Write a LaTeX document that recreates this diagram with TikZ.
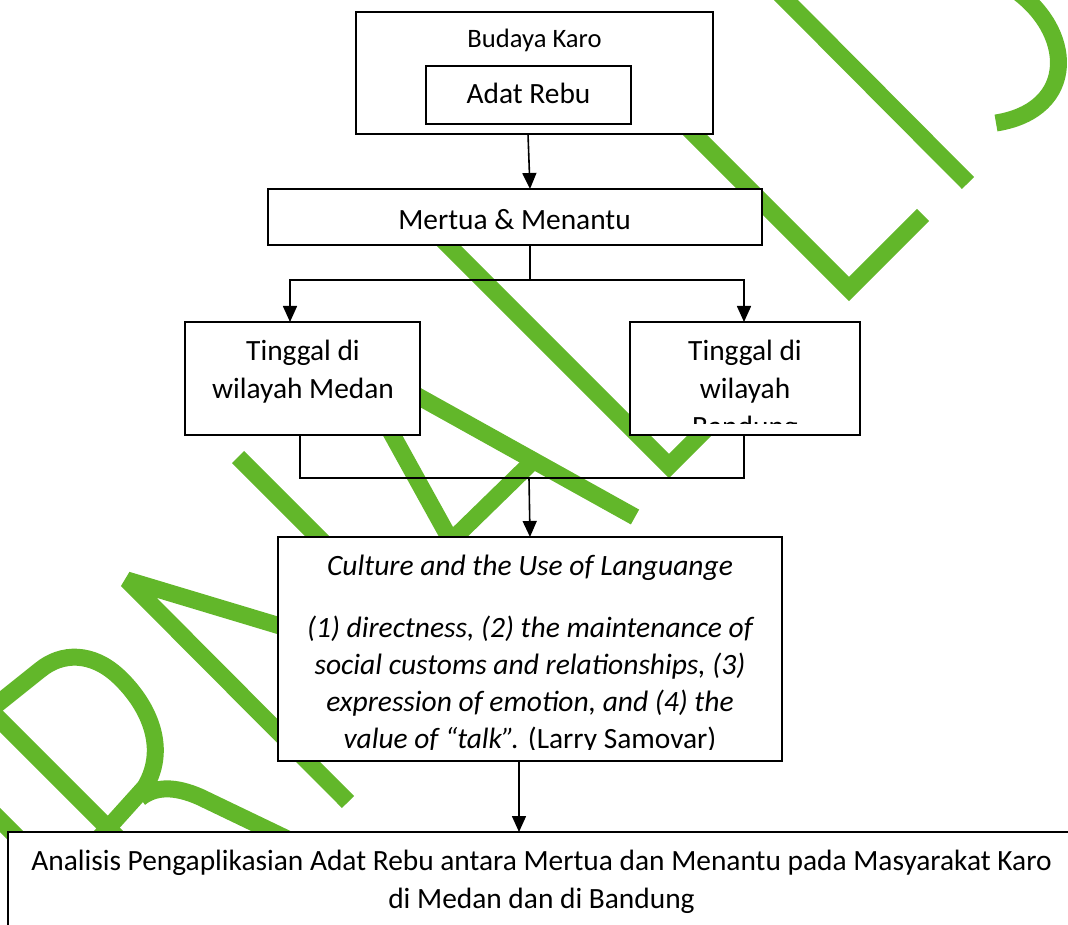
\documentclass[tikz,border=0pt]{standalone}
\usepackage{fontspec}
\setmainfont{Carlito}
\usetikzlibrary{arrows.meta}
\definecolor{wmgreen}{RGB}{98,183,42}
\tikzset{
  wm/.style={draw=wmgreen, line width=17pt, line join=miter},
  box/.style={draw=black, line width=2pt, fill=white, inner sep=0pt, outer sep=0pt},
  conn/.style={draw=black, line width=1.6pt},
  arr/.style={conn, -{Triangle[width=14pt,length=16pt]}},
  txt/.style={anchor=base, inner sep=0pt, outer sep=0pt, font=\fontsize{29.4}{35}\selectfont},
  smalltxt/.style={txt, font=\fontsize{26.6}{32}\selectfont},
  ittxt/.style={txt, font=\fontsize{29.5}{35}\selectfont\itshape}
}
\begin{document}
\begin{tikzpicture}[x=1pt,y=-1pt]
\useasboundingbox (0,0) rectangle (1068,925);
% ---- watermark strokes ----
\draw[wm] (1012,-12) .. controls (1075,30) and (1078,110) .. (996,123);
\draw[wm] (778,-8) -- (968,183);
\draw[wm] (660,100) -- (849,289) -- (923,215);
\draw[wm] (415,212) -- (669,466) -- (735,400);
\draw[wm] (360,364) -- (635,517);
\draw[wm] (362,380) -- (451,541) -- (530,464);
\draw[wm] (238,457) -- (400,619);
\draw[wm, line join=bevel] (348,802) -- (127,580) -- (300,632);
\draw[wm] (-20,700) -- (125,845);
\draw[wm] (-10,710) -- (40,670) .. controls (62,652) and (92,652) .. (118,676)
          .. controls (145,701) and (170,745) .. (145,787) -- (100,837);
\draw[wm] (140,798) .. controls (155,786) and (175,786) .. (200,797) -- (300,845);
\draw[wm] (-20,800) -- (40,860);
% ---- boxes ----
\node[box, minimum width=357pt, minimum height=122pt] (budaya) at (534.5,73) {};
\node[box, minimum width=205pt, minimum height=58pt] (adat) at (528.5,95) {};
\node[box, minimum width=494pt, minimum height=56pt] (mertua) at (515,217) {};
\node[box, minimum width=235pt, minimum height=113pt] (medan) at (302.5,378.5) {};
\node[box, minimum width=230pt, minimum height=113pt] (bandung) at (745,378.5) {};
\node[box, minimum width=504pt, minimum height=224pt] (culture) at (530,649) {};
\node[box, minimum width=1067pt, minimum height=128pt] (analisis) at (541.5,896) {};
% ---- connectors ----
\draw[arr] ([xshift=-6.5pt]budaya.south) -- ([xshift=15pt]mertua.north);
\coordinate (split) at (530,280);
\draw[conn] ([xshift=15pt]mertua.south) -- (split);
\draw[arr] (split) -| ([xshift=-12.5pt]medan.north);
\draw[arr] (split) -| ([xshift=-1pt]bandung.north);
\coordinate (merge) at (529,478);
\draw[conn] ([xshift=-2.5pt]medan.south) |- (merge);
\draw[conn] ([xshift=-1pt]bandung.south) |- (merge);
\draw[arr] (merge) -- (culture.north);
\draw[arr] ([xshift=-11pt]culture.south) -- ([xshift=-22.5pt]analisis.north);
% ---- texts ----
\node[smalltxt] (tBud) at (534.5,48) {Budaya Karo};
\node[txt] (tAdat) at (528.5,104) {Adat Rebu};
\node[txt] (tMer) at (514.5,230) {Mertua \& Menantu};
\node[txt] (tMed1) at (303,360) {Tinggal di};
\node[txt] (tMed2) at (303,398) {wilayah Medan};
\node[txt] (tBan1) at (745,360) {Tinggal di};
\node[txt] (tBan2) at (745,398) {wilayah};
\begin{scope}
  \clip (630,322) rectangle (860,423);
  \node[txt] (tBan3) at (745,436) {Bandung};
\end{scope}
\node[ittxt] (tCul1) at (530,575) {Culture and the Use of Languange};
\node[ittxt] (tCul2) at (530,637) {(1) directness, (2) the maintenance of};
\node[ittxt] (tCul3) at (530,674) {social customs and relationships, (3)};
\node[ittxt] (tCul4) at (530,711) {expression of emotion, and (4) the};
\begin{scope}
  \clip (278,537) rectangle (782,749);
  \node[txt] (tCul5) at (530,748) {\textit{value of “talk”.} (Larry Samovar)};
\end{scope}
\node[txt] (tAna1) at (541.5,870) {Analisis Pengaplikasian Adat Rebu antara Mertua dan Menantu pada Masyarakat Karo};
\node[txt] (tAna2) at (541.5,908) {di Medan dan di Bandung};
\end{tikzpicture}
\end{document}
